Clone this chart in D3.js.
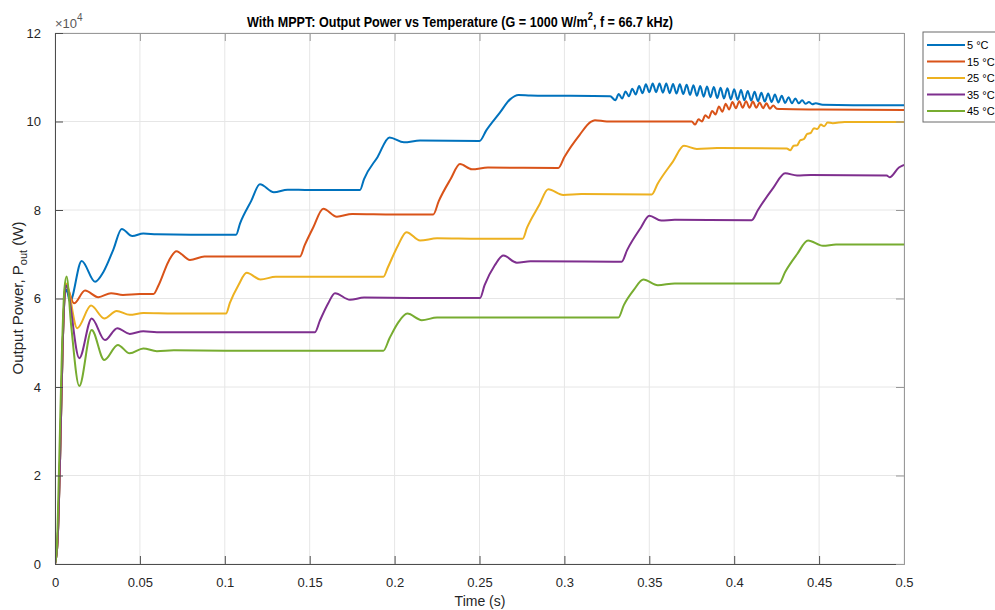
<!DOCTYPE html>
<html>
<head>
<meta charset="utf-8">
<script src="https://cdn.jsdelivr.net/npm/d3@7"></script>
<style>
  html, body { margin: 0; padding: 0; background: #ffffff; }
  svg { display: block; font-family: "Liberation Sans", Arial, Helvetica, sans-serif; }
</style>
</head>
<body>
<svg id="chart" width="995" height="610"></svg>
<script>
// ---------------- DATA ----------------
const timeTicks = [0, 0.05, 0.1, 0.15, 0.2, 0.25, 0.3, 0.35, 0.4, 0.45, 0.5];
const timeTickLabels = ["0", "0.05", "0.1", "0.15", "0.2", "0.25", "0.3", "0.35", "0.4", "0.45", "0.5"];
const powerTicks = [0, 2, 4, 6, 8, 10, 12];
const powerTickLabels = ["0", "2", "4", "6", "8", "10", "12"];
const seriesNames = ["5 °C", "15 °C", "25 °C", "35 °C", "45 °C"];
const seriesColors = ["#0072BD", "#D95319", "#EDB120", "#7E2F8E", "#77AC30"];

// [time (s), power (x10^4 W)]
const temp5C = [
  [0,0],[0.0015,0.5],[0.003,2.4],[0.0045,4.9],[0.0058,6.1],[0.0068,6.2],[0.0088,5.93],[0.0157,6.85],
  [0.0236,6.38],[0.0285,6.6],[0.0343,7.1],[0.0393,7.57],[0.0455,7.41],[0.052,7.47],[0.06,7.45],[0.08,7.44],
  [0.1066,7.44],[0.109,7.7],[0.1155,8.2],[0.1207,8.58],[0.1289,8.40],[0.137,8.46],[0.15,8.45],[0.1796,8.45],
  [0.182,8.7],[0.19,9.2],[0.197,9.64],[0.2055,9.53],[0.215,9.57],[0.25,9.56],[0.254,9.8],[0.262,10.2],
  [0.268,10.5],[0.273,10.6],[0.28,10.59],[0.327,10.57],
  [0.330,10.48],[0.332,10.62],[0.334,10.52],[0.336,10.68],[0.338,10.57],[0.340,10.74],[0.342,10.61],
  [0.344,10.80],[0.346,10.64],[0.348,10.84],[0.350,10.66],[0.352,10.86],[0.354,10.66],[0.356,10.86],
  [0.358,10.65],[0.360,10.86],[0.362,10.64],[0.364,10.85],[0.366,10.63],[0.368,10.84],[0.370,10.62],
  [0.372,10.83],[0.374,10.60],[0.376,10.82],[0.378,10.58],[0.380,10.80],[0.382,10.56],[0.384,10.79],
  [0.386,10.55],[0.388,10.78],[0.390,10.53],[0.392,10.76],[0.394,10.52],[0.396,10.75],[0.398,10.50],
  [0.400,10.73],[0.402,10.49],[0.404,10.71],[0.406,10.48],[0.408,10.69],[0.410,10.47],[0.412,10.67],
  [0.414,10.46],[0.416,10.65],[0.418,10.45],[0.420,10.63],[0.422,10.44],[0.424,10.61],[0.426,10.43],
  [0.428,10.58],[0.430,10.42],[0.432,10.55],[0.434,10.41],[0.436,10.52],[0.438,10.41],[0.440,10.48],
  [0.442,10.40],[0.444,10.44],[0.446,10.39],[0.448,10.41],[0.452,10.38],[0.47,10.37],[0.5,10.37]
];
const temp15C = [
  [0,0],[0.0015,0.5],[0.003,2.4],[0.0045,4.9],[0.0057,6.1],[0.0064,6.3],[0.0112,5.89],[0.0177,6.18],
  [0.0255,6.03],[0.033,6.12],[0.04,6.08],[0.05,6.10],[0.058,6.10],[0.061,6.3],[0.067,6.85],[0.0715,7.07],
  [0.0795,6.87],[0.088,6.95],[0.11,6.95],[0.1443,6.95],[0.147,7.2],[0.152,7.6],[0.158,8.03],[0.166,7.85],
  [0.175,7.91],[0.2,7.90],[0.2228,7.90],[0.226,8.2],[0.233,8.7],[0.2385,9.04],[0.2455,8.92],[0.255,8.96],
  [0.2964,8.95],[0.300,9.2],[0.309,9.7],[0.3155,9.99],[0.318,10.03],[0.325,10.0],[0.375,10.0],
  [0.377,9.93],[0.379,10.05],[0.381,10.00],[0.383,10.14],[0.385,10.08],[0.387,10.24],[0.389,10.16],
  [0.391,10.34],[0.393,10.22],[0.395,10.40],[0.397,10.27],[0.399,10.44],[0.401,10.30],[0.403,10.46],
  [0.405,10.31],[0.407,10.46],[0.409,10.31],[0.411,10.45],[0.413,10.31],[0.415,10.43],[0.417,10.30],
  [0.419,10.41],[0.421,10.29],[0.423,10.36],[0.425,10.29],[0.428,10.28],[0.45,10.27],[0.5,10.26]
];
const temp25C = [
  [0,0],[0.0015,0.5],[0.003,2.4],[0.0045,4.9],[0.0057,6.15],[0.0065,6.34],[0.0131,5.33],[0.0212,5.84],
  [0.029,5.55],[0.0363,5.72],[0.044,5.63],[0.052,5.67],[0.07,5.66],[0.1007,5.66],[0.103,5.9],[0.108,6.3],
  [0.1129,6.58],[0.121,6.43],[0.13,6.49],[0.16,6.49],[0.1934,6.49],[0.196,6.7],[0.202,7.2],[0.207,7.50],
  [0.215,7.31],[0.225,7.36],[0.25,7.35],[0.2754,7.35],[0.278,7.6],[0.285,8.1],[0.2905,8.47],[0.2993,8.34],
  [0.31,8.36],[0.3514,8.35],[0.355,8.6],[0.364,9.1],[0.3704,9.45],[0.378,9.38],[0.39,9.40],[0.431,9.39],
  [0.433,9.35],[0.435,9.45],[0.437,9.46],[0.439,9.58],[0.441,9.60],[0.443,9.72],[0.445,9.74],[0.447,9.85],
  [0.449,9.83],[0.451,9.93],[0.453,9.89],[0.455,9.98],[0.458,9.96],[0.465,9.99],[0.5,9.99]
];
const temp35C = [
  [0,0],[0.0015,0.5],[0.003,2.4],[0.0045,4.9],[0.0057,6.1],[0.0064,6.3],[0.0143,4.65],[0.0216,5.55],
  [0.0294,5.06],[0.0367,5.33],[0.044,5.20],[0.052,5.26],[0.06,5.24],[0.1,5.24],[0.1531,5.24],[0.156,5.5],
  [0.161,5.9],[0.1649,6.12],[0.1737,5.97],[0.182,6.02],[0.21,6.01],[0.2503,6.01],[0.253,6.3],[0.259,6.75],
  [0.264,6.97],[0.272,6.81],[0.28,6.84],[0.3337,6.83],[0.337,7.1],[0.345,7.6],[0.35,7.87],[0.357,7.76],
  [0.365,7.78],[0.4103,7.77],[0.414,8.0],[0.423,8.5],[0.43,8.83],[0.437,8.78],[0.445,8.79],[0.4898,8.78],
  [0.4915,8.74],[0.497,8.96],[0.5,9.02]
];
const temp45C = [
  [0,0],[0.001,0.3],[0.0025,2.35],[0.004,4.7],[0.0055,6.2],[0.0068,6.5],[0.0095,5.4],[0.0143,4.02],
  [0.0216,5.29],[0.029,4.61],[0.037,4.95],[0.044,4.76],[0.052,4.87],[0.06,4.81],[0.07,4.83],[0.1,4.82],
  [0.1934,4.82],[0.197,5.1],[0.202,5.45],[0.2075,5.66],[0.216,5.51],[0.225,5.57],[0.26,5.57],[0.3318,5.57],
  [0.335,5.85],[0.341,6.2],[0.3465,6.43],[0.355,6.30],[0.365,6.34],[0.4265,6.34],[0.43,6.6],[0.437,7.0],
  [0.4435,7.31],[0.4523,7.19],[0.46,7.22],[0.5,7.22]
];
const allSeries = [temp5C, temp15C, temp25C, temp35C, temp45C];

// ---------------- LAYOUT ----------------
const svg = d3.select("#chart");
const plotL = 55, plotR = 904, plotT = 33, plotB = 564;

const x = d3.scaleLinear().domain([0, 0.5]).range([plotL, plotR]);
const y = d3.scaleLinear().domain([0, 12]).range([plotB, plotT]);

// grid
svg.append("g").selectAll("line").data(timeTicks).join("line")
  .attr("x1", d => x(d)).attr("x2", d => x(d)).attr("y1", plotT).attr("y2", plotB)
  .attr("stroke", "#e6e6e6").attr("stroke-width", 1);
svg.append("g").selectAll("line").data(powerTicks).join("line")
  .attr("x1", plotL).attr("x2", plotR).attr("y1", d => y(d)).attr("y2", d => y(d))
  .attr("stroke", "#e6e6e6").attr("stroke-width", 1);

// lines
const line = d3.line().x(d => x(d[0])).y(d => y(d[1])).curve(d3.curveMonotoneX);
svg.append("clipPath").attr("id", "clip").append("rect")
  .attr("x", plotL).attr("y", plotT).attr("width", plotR - plotL).attr("height", plotB - plotT);
svg.append("g").attr("clip-path", "url(#clip)")
  .selectAll("path").data(allSeries).join("path")
  .attr("d", line).attr("fill", "none")
  .attr("stroke", (d, i) => seriesColors[i]).attr("stroke-width", 2)
  .attr("stroke-linejoin", "round");

// axes (box with inward ticks)
const axColor = "#4d4d4d";
const xb = svg.append("g").attr("transform", `translate(0,${plotB})`)
  .call(d3.axisBottom(x).tickValues(timeTicks).tickSizeInner(-8).tickSizeOuter(0)
    .tickFormat((d, i) => timeTickLabels[i]).tickPadding(14));
const xt = svg.append("g").attr("transform", `translate(0,${plotT})`)
  .call(d3.axisTop(x).tickValues(timeTicks).tickSizeInner(-8).tickSizeOuter(0).tickFormat(""));
const yl = svg.append("g").attr("transform", `translate(${plotL},0)`)
  .call(d3.axisLeft(y).tickValues(powerTicks).tickSizeInner(-8).tickSizeOuter(0)
    .tickFormat((d, i) => powerTickLabels[i]).tickPadding(14));
const yr = svg.append("g").attr("transform", `translate(${plotR},0)`)
  .call(d3.axisRight(y).tickValues(powerTicks).tickSizeInner(-8).tickSizeOuter(0).tickFormat(""));
[xb, yl].forEach(g => {
  g.select(".domain").attr("stroke", axColor);
  g.selectAll(".tick line").attr("stroke", axColor);
  g.selectAll(".tick text").attr("fill", "#262626").attr("font-size", "13px")
    .attr("font-family", "'Liberation Sans', Arial, sans-serif");
});
[xt, yr].forEach(g => {
  g.select(".domain").attr("stroke", "#999999");
  g.selectAll(".tick line").attr("stroke", "#999999");
});

// exponent label
const ex = svg.append("text").attr("x", 55).attr("y", 28).attr("fill", "#595959")
  .attr("font-size", "13px");
ex.append("tspan").text("×10");
ex.append("tspan").attr("dy", -7).attr("font-size", "10px").text("4");

// title (horizontally condensed like the reference)
const title = svg.append("g").attr("transform", "translate(247,27) scale(0.84,1)")
  .append("text").attr("x", 0).attr("y", 0).attr("font-weight", "bold")
  .attr("font-size", "15px").attr("fill", "#000");
title.append("tspan").text("With MPPT: Output Power vs Temperature (G = 1000 W/m");
title.append("tspan").attr("dy", -7).attr("font-size", "11px").text("2");
title.append("tspan").attr("dy", 7).text(", f = 66.7 kHz)");

// x label
svg.append("text").attr("x", 480).attr("y", 606).attr("text-anchor", "middle")
  .attr("font-size", "14px").attr("fill", "#262626").text("Time (s)");

// y label
const ylab = svg.append("text").attr("transform", "translate(23,298) rotate(-90)")
  .attr("text-anchor", "middle").attr("font-size", "15px").attr("fill", "#262626");
ylab.append("tspan").text("Output Power, P");
ylab.append("tspan").attr("dy", 4).attr("font-size", "11px").text("out");
ylab.append("tspan").attr("dy", -4).text(" (W)");

// legend
const lg = svg.append("g");
lg.append("rect").attr("x", 923).attr("y", 32).attr("width", 90).attr("height", 90)
  .attr("fill", "#fff").attr("stroke", "#6b6b6b").attr("stroke-width", 1);
const rows = lg.selectAll("g").data(seriesNames).join("g")
  .attr("transform", (d, i) => `translate(0,${45 + i * 16.5})`);
rows.append("line").attr("x1", 927).attr("x2", 965).attr("y1", 0).attr("y2", 0)
  .attr("stroke", (d, i) => seriesColors[i]).attr("stroke-width", 2);
rows.append("text").attr("x", 967).attr("y", 4).attr("font-size", "11px").attr("fill", "#000")
  .text(d => d);
</script>
</body>
</html>
